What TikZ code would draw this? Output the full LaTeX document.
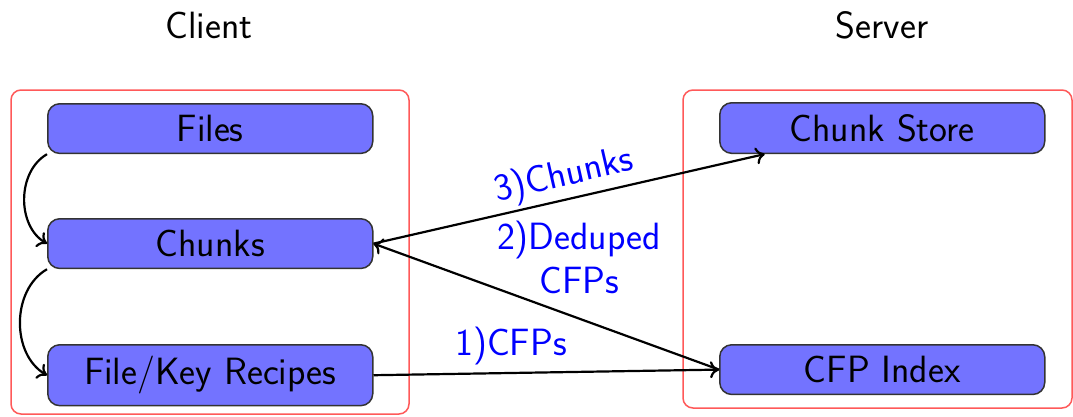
\documentclass[tikz,border=0pt]{standalone}
\usetikzlibrary{calc,arrows.meta}
\begin{document}
\begin{tikzpicture}[x=1pt,y=-1pt,
  font=\sffamily\fontsize{38}{44}\selectfont,
  blk/.style={draw=black!80, line width=1.5pt, fill=blue!55, rounded corners=12pt,
    minimum width=325pt, inner ysep=11.5pt, anchor=north west},
  grp/.style={draw=red!65, line width=1.5pt, rounded corners=10pt},
  conn/.style={line width=2.2pt, -{To[length=9pt,width=17pt]}, black},
  lbl/.style={text=blue, inner sep=1pt}
]
\useasboundingbox (0,0) rectangle (1073,416);
\draw[grp] (11,90) rectangle (409,414);
\draw[grp] (683,90) rectangle (1072,408);
\node (tclient) at (209,25) {Client};
\node (tserver) at (882,25) {Server};
\node[blk] (files) at (47,103) {Files};
\node[blk] (chunks) at (47,218) {Chunks};
\node[blk] (recipes) at (47,344) {File/Key Recipes};
\node[blk] (store) at (719,102) {Chunk Store};
\node[blk] (index) at (719,344) {CFP Index};
\coordinate (storein) at ($(store.south west)!0.14!(store.south east)$);
\draw[conn] (files.south west) to[bend right=60] (chunks.west);
\draw[conn] (chunks.south west) to[bend right=60] (recipes.west);
\draw[conn] (recipes.east) -- (index.west);
\draw[conn] (index.west) -- (chunks.east);
\draw[conn] (chunks.east) -- node[lbl, above, sloped, pos=0.5, yshift=2pt] {3)Chunks} (storein);
\node[lbl, align=center] (dedup) at (579,257) {2)Deduped\\CFPs};
\node[lbl] (cfps) at (511,346) {1)CFPs};
\end{tikzpicture}
\end{document}
